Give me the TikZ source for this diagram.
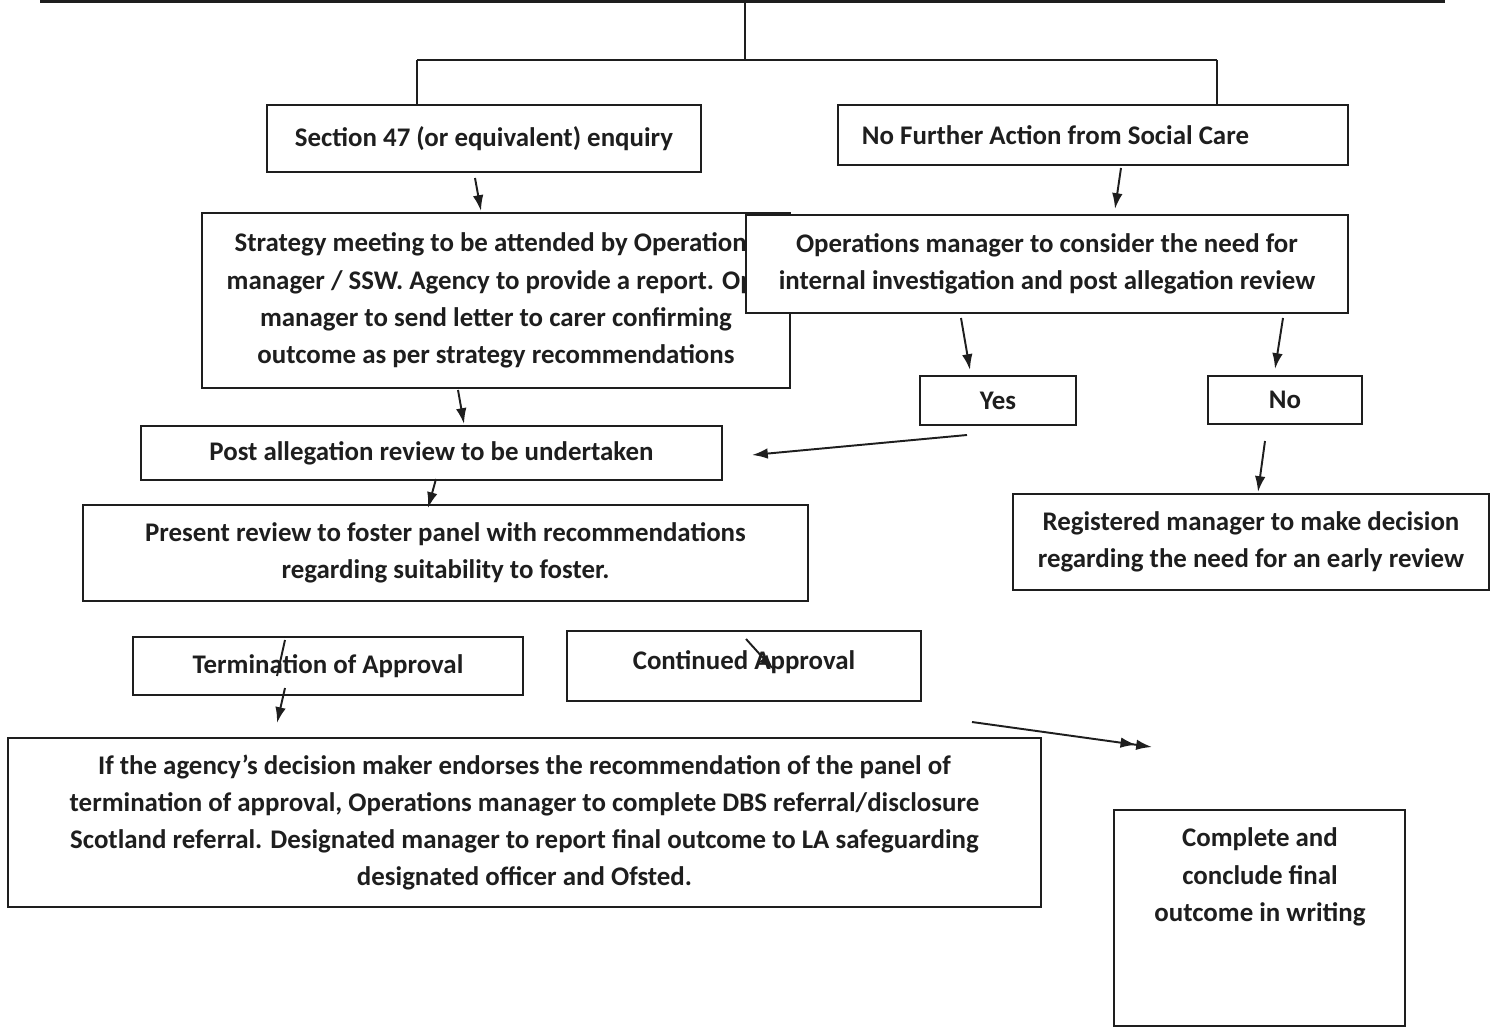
\documentclass[tikz,border=0pt]{standalone}
\usepackage{fontspec}
\setmainfont{Carlito}
\usetikzlibrary{arrows.meta}
\definecolor{ink}{HTML}{1E1E1E}
\begin{document}
\begin{tikzpicture}[x=0.02cm,y=-0.02cm,
  box/.style={draw=ink, line width=1.3pt, fill=white, inner sep=0pt},
  sz/.style 2 args={minimum width={#1*0.02cm}, minimum height={#2*0.02cm}},
  txt/.style={align=center, font=\fontsize{15.3}{21.2}\selectfont\bfseries, text=ink},
  arr/.style={draw=ink, line width=1.1pt, -{Latex[length=9pt,width=6pt]}},
  dblarr/.style={draw=ink, line width=1.1pt, -{Latex[length=9pt,width=6pt]Latex[length=9pt,width=6pt]}},
  ln/.style={draw=ink, line width=1.1pt}]
\useasboundingbox (0,0) rectangle (1495,1034);
\fill[white] (0,0) rectangle (1495,1034);

% top connector tree
\coordinate (topL) at (40,1);
\coordinate (topR) at (1445,1);
\coordinate (topM) at (745,1);
\coordinate (brM) at (745,60);
\coordinate (brL) at (417,60);
\coordinate (brR) at (1217,60);
\draw[ink, line width=2.2pt] (topL) -- (topR);

% boxes
\node[box, txt, sz={434}{67}] (s47) at (484,138.5) {Section 47 (or equivalent) enquiry};
\node[box, txt, sz={510}{60}] (nfa) at (1093,135) {No Further Action from Social Care\hspace*{1.5cm}};
\draw[ln] (topM) -- (brM);
\draw[ln] (brL) -- (brR);
\draw[ln] (brL) -- (s47.north -| brL);
\draw[ln] (brR) -- (nfa.north -| brR);

\node[box, txt, sz={588}{175}] (strat) at (496,300.5) {Strategy meeting to be attended by Operations\\manager / SSW. Agency to provide a report. Ops\\manager to send letter to carer confirming\\outcome as per strategy recommendations};
\node[box, txt, sz={602}{98}] (ops) at (1047,264) {Operations manager to consider the need for\\internal investigation and post allegation review};

\node[box, txt, sz={156}{49}] (yes) at (998,400.5) {Yes};
\node[box, txt, sz={154}{48}] (no) at (1285,400) {No};

\node[box, txt, sz={581}{54}] (post) at (431.5,453) {Post allegation review to be undertaken};
\node[box, txt, sz={725}{96}] (present) at (445.5,553) {Present review to foster panel with recommendations\\regarding suitability to foster.};
\node[box, txt, sz={476}{96}] (reg) at (1251,542) {Registered manager to make decision\\regarding the need for an early review};

\node[box, txt, sz={390}{58}] (term) at (328,666) {Termination of Approval};
\node[box, txt, sz={354}{70}] (cont) at (744,666) {Continued Approval\\[-14pt]\mbox{}};

\node[box, txt, sz={1033}{169}] (final) at (524.5,822.5) {If the agency's decision maker endorses the recommendation of the panel of\\termination of approval, Operations manager to complete DBS referral/disclosure\\Scotland referral. Designated manager to report final outcome to LA safeguarding\\designated officer and Ofsted.};
\node[box, sz={291}{216}] (done) at (1259.5,918) {};
\node[txt] (donetxt) at (1260,877) {Complete and\\conclude final\\outcome in writing};

% arrows
\coordinate (a1s) at (475,178);  \coordinate (a1e) at (481,211);
\coordinate (a2s) at (1121,168); \coordinate (a2e) at (1115,209);
\coordinate (a3s) at (961,318);  \coordinate (a3e) at (970,370);
\coordinate (a4s) at (1283,318); \coordinate (a4e) at (1275,369);
\coordinate (a5s) at (967,435);  \coordinate (a5e) at (752,455);
\coordinate (a6s) at (1265,441); \coordinate (a6e) at (1258,492);
\coordinate (a7s) at (458,390);  \coordinate (a7e) at (464,424);
\coordinate (a8s) at (436,479);  \coordinate (a8e) at (428,508);
\coordinate (a9s) at (285,640);  \coordinate (a9e) at (277,676);
\coordinate (a10s) at (285,688); \coordinate (a10e) at (277,723);
\coordinate (a11s) at (746,639); \coordinate (a11e) at (774,670);
\coordinate (a12s) at (972,722); \coordinate (a12e) at (1152,747);

\draw[arr] (a1s) -- (a1e);
\draw[arr] (a2s) -- (a2e);
\draw[arr] (a3s) -- (a3e);
\draw[arr] (a4s) -- (a4e);
\draw[arr] (a5s) -- (a5e);
\draw[arr] (a6s) -- (a6e);
\draw[arr] (a7s) -- (a7e);
\draw[arr] (a8s) -- (a8e);
\draw[ln] (a9s) -- (a9e);
\draw[arr] (a10s) -- (a10e);
\draw[arr] (a11s) -- (a11e);
\draw[dblarr] (a12s) -- (a12e);
\end{tikzpicture}
\end{document}
